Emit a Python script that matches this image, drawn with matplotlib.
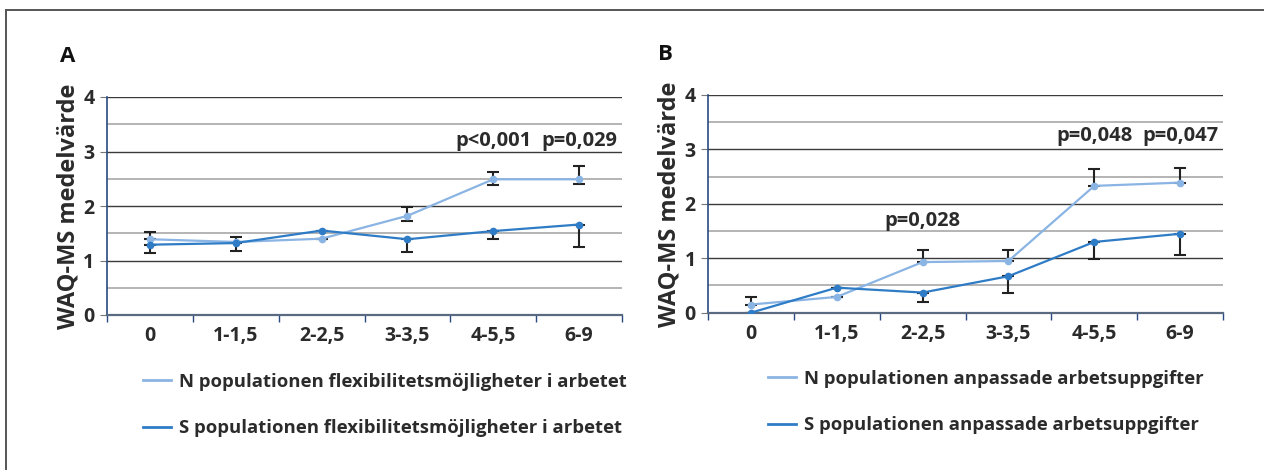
import matplotlib
matplotlib.use("Agg")
import matplotlib.pyplot as plt
import numpy as np
from matplotlib.lines import Line2D

plt.rcParams['font.family'] = ['Open Sans', 'DejaVu Sans']

categories = ["0", "1-1,5", "2-2,5", "3-3,5", "4-5,5", "6-9"]

# Panel A
a_N = [1.39, 1.34, 1.40, 1.82, 2.49, 2.49]
a_S = [1.29, 1.32, 1.55, 1.39, 1.54, 1.66]
a_N_err_up = [0.13, 0.09, 0.0, 0.17, 0.13, 0.25]
a_N_err_lo = [0.0, 0.0, 0.0, 0.09, 0.10, 0.09]
a_S_err_lo = [0.15, 0.15, 0.0, 0.24, 0.14, 0.42]
a_labels = ["N populationen flexibilitetsmöjligheter i arbetet",
            "S populationen flexibilitetsmöjligheter i arbetet"]
a_pvals = [(4, 3.2, "p<0,001"), (5, 3.2, "p=0,029")]

# Panel B
b_N = [0.15, 0.29, 0.93, 0.95, 2.33, 2.39]
b_S = [0.00, 0.46, 0.37, 0.67, 1.30, 1.45]
b_N_err_up = [0.14, 0.0, 0.22, 0.20, 0.31, 0.26]
b_N_err_lo = [0.0, 0.0, 0.0, 0.0, 0.0, 0.0]
b_S_err_lo = [0.0, 0.0, 0.17, 0.31, 0.32, 0.39]
b_labels = ["N populationen anpassade arbetsuppgifter",
            "S populationen anpassade arbetsuppgifter"]
b_pvals = [(2, 1.68, "p=0,028"), (4, 3.25, "p=0,048"), (5, 3.25, "p=0,047")]

y_ticks = [0, 1, 2, 3, 4]
ylabel = "WAQ-MS medelvärde"

C_N = "#8ab4e3"
C_S = "#2f7cc6"
TXT = "#2b2b2b"

fig = plt.figure(figsize=(12.64, 4.70), dpi=100)
W, H = 1264, 470

# outer frame (top and left visible)
fig.add_artist(Line2D([6/W, 6/W], [0, 1 - 10/H], transform=fig.transFigure,
                      color="#555555", lw=1.4))
fig.add_artist(Line2D([6/W, 1], [1 - 10/H, 1 - 10/H], transform=fig.transFigure,
                      color="#555555", lw=1.4))


def panel(left_px, top_px, bottom_px, N, S, Nup, Nlo, Slo, labels, pvals,
          letter, letter_xy, leg_x, leg_y):
    right_px = left_px + 515
    ax = fig.add_axes([left_px / W, 1 - bottom_px / H,
                       (right_px - left_px) / W, (bottom_px - top_px) / H])
    x = np.arange(len(categories))
    ax.set_xlim(-0.5, len(categories) - 0.5)
    ax.set_ylim(0, 4)
    # grid
    for v in np.arange(0.5, 4.01, 0.5):
        if abs(v - round(v)) < 1e-6:
            ax.axhline(v, color="#3a3a3a", lw=1.0, zorder=1)
        else:
            ax.axhline(v, color="#a8a8a8", lw=1.2, zorder=1)
    # error bars
    ax.errorbar(x, N, yerr=[Nlo, Nup], fmt="none", ecolor="#222222",
                elinewidth=1.5, capsize=4.3, capthick=1.5, zorder=2)
    ax.errorbar(x, S, yerr=[Slo, np.zeros(len(S))], fmt="none",
                ecolor="#222222", elinewidth=1.5, capsize=4.3, capthick=1.5,
                zorder=2)
    ax.plot(x, N, color=C_N, lw=1.6, marker="o", ms=4.5, zorder=3)
    ax.plot(x, S, color=C_S, lw=1.6, marker="o", ms=4.5, zorder=4)

    ax.set_yticks(y_ticks)
    ax.set_xticks(x)
    ax.set_xticklabels(categories)
    ax.set_xticks(np.arange(-0.5, len(categories), 1.0), minor=True)
    ax.tick_params(axis="x", which="major", length=0, pad=8,
                   labelsize=14, labelcolor=TXT)
    ax.tick_params(axis="x", which="minor", length=5, color="#2a4a80",
                   direction="out", width=1)
    ax.tick_params(axis="y", which="major", length=5, color="#777777",
                   pad=4, labelsize=14, labelcolor=TXT)
    for lab in ax.get_xticklabels() + ax.get_yticklabels():
        lab.set_fontweight("bold")
    for s in ["top", "right"]:
        ax.spines[s].set_visible(False)
    ax.spines["left"].set_color("#2a4a80")
    ax.spines["left"].set_linewidth(1.2)
    ax.spines["bottom"].set_color("#5a6a80")
    ax.spines["bottom"].set_linewidth(1.6)
    ax.set_ylabel(ylabel, fontsize=17, fontweight="bold", color=TXT,
                  labelpad=2)
    for (xi, yi, t) in pvals:
        ax.text(xi, yi, t, ha="center", va="center", fontsize=14.5,
                fontweight="bold", color=TXT)
    fig.text(letter_xy[0] / W, 1 - letter_xy[1] / H, letter, fontsize=16,
             fontweight="bold", color="#111111", ha="center", va="center")
    handles = [Line2D([], [], color=C_N, lw=2.0),
               Line2D([], [], color=C_S, lw=2.0)]
    fig.legend(handles, labels, loc="upper left",
               bbox_to_anchor=(leg_x / W, 1 - leg_y / H),
               frameon=False, labelspacing=1.55,
               handlelength=1.55, handletextpad=0.39, labelcolor=TXT,
               borderpad=0.3,
               prop={"weight": "bold", "size": 13.3})
    return ax


panel(107, 97, 315, a_N, a_S, a_N_err_up, a_N_err_lo, a_S_err_lo, a_labels,
      a_pvals, "A", (68, 57), 128, 358)
panel(708, 95, 312.7, b_N, b_S, b_N_err_up, b_N_err_lo, b_S_err_lo, b_labels,
      b_pvals, "B", (665, 55), 753, 355)

fig.savefig("out.png", dpi=100)
